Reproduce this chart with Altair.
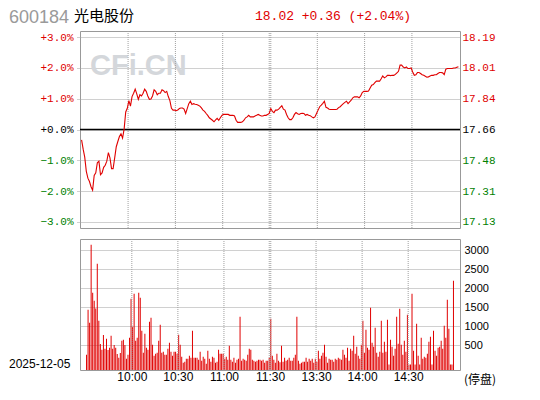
import altair as alt
import pandas as pd

PREV_CLOSE = 17.66
RED = "#e00000"
GREEN = "#008000"
GRID = "#a0a0a0"

price_pct = [
    -0.34, -0.64, -0.90, -1.36, -1.58, -1.69, -1.86, -1.97, -1.49, -1.41,
    -1.08, -1.03, -1.47, -1.41, -1.23, -1.16, -1.03, -0.75, -0.92, -1.27,
    -1.27, -0.92, -0.56, -0.39, -0.23, -0.14, -0.28, 0.02, 0.57, 0.69,
    0.94, 0.76, 1.07, 1.18, 1.31, 1.16, 0.98, 1.13, 1.09, 1.18,
    1.31, 1.24, 1.09, 0.98, 0.99, 1.09, 1.29, 1.24, 1.13, 1.18,
    1.18, 1.29, 1.26, 1.20, 1.24, 1.07, 0.94, 0.69, 0.63, 0.63,
    0.61, 0.63, 0.68, 0.70, 0.70, 0.66, 0.52, 0.68, 0.84, 0.92,
    0.81, 0.84, 0.82, 0.81, 0.79, 0.76, 0.70, 0.63, 0.59, 0.52,
    0.46, 0.38, 0.34, 0.30, 0.25, 0.31, 0.36, 0.30, 0.38, 0.46,
    0.49, 0.49, 0.49, 0.49, 0.46, 0.46, 0.46, 0.44, 0.30, 0.23,
    0.23, 0.23, 0.25, 0.30, 0.38, 0.41, 0.46, 0.41, 0.41, 0.41,
    0.44, 0.46, 0.49, 0.46, 0.44, 0.44, 0.46, 0.46, 0.49, 0.52,
    0.68, 0.59, 0.55, 0.63, 0.63, 0.66, 0.72, 0.77, 0.66, 0.63,
    0.49, 0.38, 0.32, 0.32, 0.38, 0.49, 0.55, 0.51, 0.49, 0.52,
    0.53, 0.52, 0.46, 0.49, 0.46, 0.45, 0.41, 0.38, 0.41, 0.52,
    0.63, 0.74, 0.79, 0.85, 0.92, 0.72, 0.70, 0.66, 0.65, 0.65,
    0.65, 0.65, 0.66, 0.71, 0.74, 0.79, 0.84, 0.88, 0.92, 0.84,
    0.90, 0.95, 1.03, 1.06, 1.06, 1.06, 1.03, 1.09, 1.20, 1.24,
    1.24, 1.24, 1.25, 1.35, 1.44, 1.46, 1.52, 1.57, 1.57, 1.57,
    1.65, 1.74, 1.68, 1.71, 1.76, 1.76, 1.75, 1.76, 1.76, 1.79,
    1.84, 1.89, 2.09, 2.09, 2.03, 2.00, 2.03, 1.98, 1.98, 2.00,
    1.87, 1.76, 1.78, 1.85, 1.85, 1.82, 1.78, 1.76, 1.73, 1.70,
    1.71, 1.74, 1.76, 1.76, 1.78, 1.78, 1.82, 1.85, 1.85, 1.84,
    1.78, 1.96, 1.98, 1.98, 1.98, 1.98, 2.00, 2.00, 2.02, 2.04,
]

volume = [
    254, 1438, 1096, 3148, 1886, 1675, 1473, 2648, 1149, 535,
    386, 772, 412, 675, 377, 438, 754, 412, 509, 438,
    272, 175, 298, 623, 649, 509, 149, 254, 702, 1728,
    991, 1860, 623, 702, 1886, 1754, 886, 307, 807, 438,
    386, 1123, 1228, 517, 228, 281, 307, 623, 1044, 307,
    333, 254, 254, 412, 570, 333, 228, 333, 333, 281,
    780, 517, 202, 44, 70, 149, 149, 228, 175, 886,
    175, 175, 175, 123, 333, 96, 202, 149, 18, 360,
    149, 70, 202, 175, 44, 70, 386, 281, 281, 281,
    149, 202, 123, 491, 123, 70, 175, 44, 123, 149,
    1254, 96, 149, 123, 96, 254, 412, 386, 123, 96,
    70, 96, 123, 123, 96, 123, 44, 96, 96, 175,
    1201, 228, 123, 44, 281, 96, 60, 491, 70, 175,
    96, 123, 175, 96, 96, 175, 254, 1254, 96, 18,
    44, 70, 70, 175, 70, 149, 96, 149, 44, 149,
    70, 360, 149, 228, 307, 517, 202, 44, 149, 123,
    123, 70, 149, 123, 175, 149, 123, 386, 254, 175,
    438, 96, 412, 360, 754, 281, 465, 228, 149, 517,
    1149, 307, 912, 438, 386, 1491, 570, 465, 965, 307,
    202, 333, 1149, 307, 596, 333, 1175, 0, 649, 465,
    228, 412, 1254, 544, 1465, 517, 254, 623, 333, 1307,
    0, 0, 1860, 360, 0, 1070, 228, 0, 702, 149,
    202, 175, 281, 596, 728, 0, 886, 360, 228, 438,
    465, 623, 412, 1017, 702, 1701, 938, 0, 0, 2201,
]

pct_ticks = [-3, -2, -1, 0, 1, 2, 3]
vol_ticks = [500, 1000, 1500, 2000, 2500, 3000]
time_ticks = [30, 60, 90, 120, 150, 180, 210]
time_labels = ["10:00", "10:30", "11:00", "11:30", "13:30", "14:00", "14:30"]
grid_times = [30, 60, 90, 119.5, 120.5, 150, 180, 210]
VOL_DOMAIN = [-147, 3300]

df = pd.DataFrame({"t": [i + 0.5 for i in range(len(price_pct))],
                   "pct": price_pct, "vol": volume})
grid_df = pd.DataFrame({"t": grid_times})

W = 380
H_TOP = 197
H_BOT = 131

xscale = alt.Scale(domain=[-0.5, 240.5], nice=False, zero=False)
yscale = alt.Scale(domain=[-3.2, 3.2], nice=False, zero=False)

color_expr = f"datum.value > 0.001 ? '{RED}' : (datum.value < -0.001 ? '{GREEN}' : 'black')"

left_axis = alt.Axis(
    orient="left", values=pct_ticks, grid=True, gridColor=GRID, gridDash=[1, 1],
    gridOpacity=1, domain=False, ticks=True, tickSize=4, tickDash=[1, 1],
    tickColor=GRID, labelPadding=3, labelFont="Liberation Mono", labelFontSize=11,
    labelExpr="(datum.value >= 0 ? '+' : '') + format(datum.value, '.1f') + '%'",
    labelColor={"expr": color_expr}, title=None,
)
right_axis = alt.Axis(
    orient="right", values=pct_ticks, grid=False, domain=False, ticks=False,
    labelPadding=2, labelFont="Liberation Mono", labelFontSize=11,
    labelExpr=f"format({PREV_CLOSE} * (1 + datum.value / 100), '.2f')",
    labelColor={"expr": color_expr}, title=None,
)

label_expr = "[" + ",".join(f"'{s}'" for s in time_labels) + "][indexof([" + \
    ",".join(str(v) for v in time_ticks) + "], datum.value)]"
time_axis = alt.Axis(
    orient="bottom", values=time_ticks, labelExpr=label_expr, grid=False,
    domain=False, ticks=False, labelPadding=1, labelFont="Liberation Sans",
    labelFontSize=12, labelColor="black", labelFlush=False, labelOverlap=False, title=None)

vgrid_top = alt.Chart(grid_df).mark_rule(color=GRID, strokeDash=[1, 1], strokeWidth=1).encode(
    x=alt.X("t:Q", scale=xscale, axis=None)
)
vgrid_bot = alt.Chart(grid_df).mark_rule(color=GRID, strokeDash=[1, 1], strokeWidth=1).encode(
    x=alt.X("t:Q", scale=xscale, axis=time_axis)
)

# invisible anchor fixing the top-left corner of the drawing (page margin is 8px)
anchor = alt.Chart(pd.DataFrame({"a": [0]})).mark_rule(strokeWidth=1, opacity=0, color="white").encode(
    x=alt.value(-71.5), y=alt.value(-22.5), y2=alt.value(-21.5)
)

watermark = alt.Chart(pd.DataFrame({"s": ["CFi.CN"]})).mark_text(
    font="Liberation Sans", fontSize=29, fontWeight="bold", color="#d4d7db",
    align="left", baseline="alphabetic"
).encode(text="s:N", x=alt.value(10), y=alt.value(44))

zero = alt.Chart(pd.DataFrame({"z": [0]})).mark_rule(color="black", strokeWidth=1.3).encode(
    y=alt.Y("z:Q", scale=yscale, axis=None)
)

base = alt.Chart(df).encode(x=alt.X("t:Q", scale=xscale, axis=None))
line = base.mark_line(color=RED, strokeWidth=1.1).encode(
    y=alt.Y("pct:Q", scale=yscale, axis=left_axis)
)
right = base.mark_line(opacity=0).encode(
    y=alt.Y("pct:Q", scale=yscale, axis=right_axis)
)

code_txt = alt.Chart(pd.DataFrame({"s": ["600184"]})).mark_text(
    font="Liberation Sans", fontSize=18, color="#9a9a9a", align="left", baseline="alphabetic"
).encode(text="s:N", x=alt.value(-71), y=alt.value(-8))
name_txt = alt.Chart(pd.DataFrame({"s": ["光电股份"]})).mark_text(
    font="Noto Sans CJK SC", fontSize=15, color="black", align="left", baseline="alphabetic"
).encode(text="s:N", x=alt.value(-6), y=alt.value(-10))
quote_txt = alt.Chart(pd.DataFrame({"s": ["18.02 +0.36 (+2.04%)"]})).mark_text(
    font="Liberation Mono", fontSize=13, color=RED, align="left", baseline="alphabetic"
).encode(text="s:N", x=alt.value(175), y=alt.value(-11))

top = alt.layer(anchor, watermark, vgrid_top, zero, line, right, code_txt, name_txt, quote_txt).resolve_axis(
    y="independent"
).properties(width=W, height=H_TOP)

vscale = alt.Scale(domain=VOL_DOMAIN, nice=False, zero=False)
bars = alt.Chart(df).mark_bar(color=RED, size=1).encode(
    x=alt.X("t:Q", scale=xscale, axis=time_axis),
    y=alt.Y("vol:Q", scale=vscale, axis=alt.Axis(
        orient="right", values=vol_ticks, format="d", grid=True, gridColor=GRID, gridDash=[1, 1],
        gridOpacity=1, domain=False, ticks=False, labelPadding=4,
        labelFont="Liberation Sans", labelFontSize=11, labelColor="black", title=None)),
    y2=alt.datum(VOL_DOMAIN[0]),
)
date_txt = alt.Chart(pd.DataFrame({"s": ["2025-12-05"]})).mark_text(
    font="Liberation Sans", fontSize=12, color="black", align="left", baseline="alphabetic"
).encode(text="s:N", x=alt.value(-71), y=alt.value(129))
halt_txt = alt.Chart(pd.DataFrame({"s": ["(停盘)"]})).mark_text(
    font="Noto Sans CJK SC", fontSize=12, color="black", align="left", baseline="middle"
).encode(text="s:N", x=alt.value(384), y=alt.value(141))

bottom = alt.layer(bars, vgrid_bot, date_txt, halt_txt).properties(width=W, height=H_BOT)

chart = alt.vconcat(top, bottom, spacing=11, bounds="flush").properties(
    padding=0,
    background="white",
).configure_view(stroke="#999999", strokeWidth=1)

chart.save("out.html", embed_options={"renderer": "svg", "actions": False})
